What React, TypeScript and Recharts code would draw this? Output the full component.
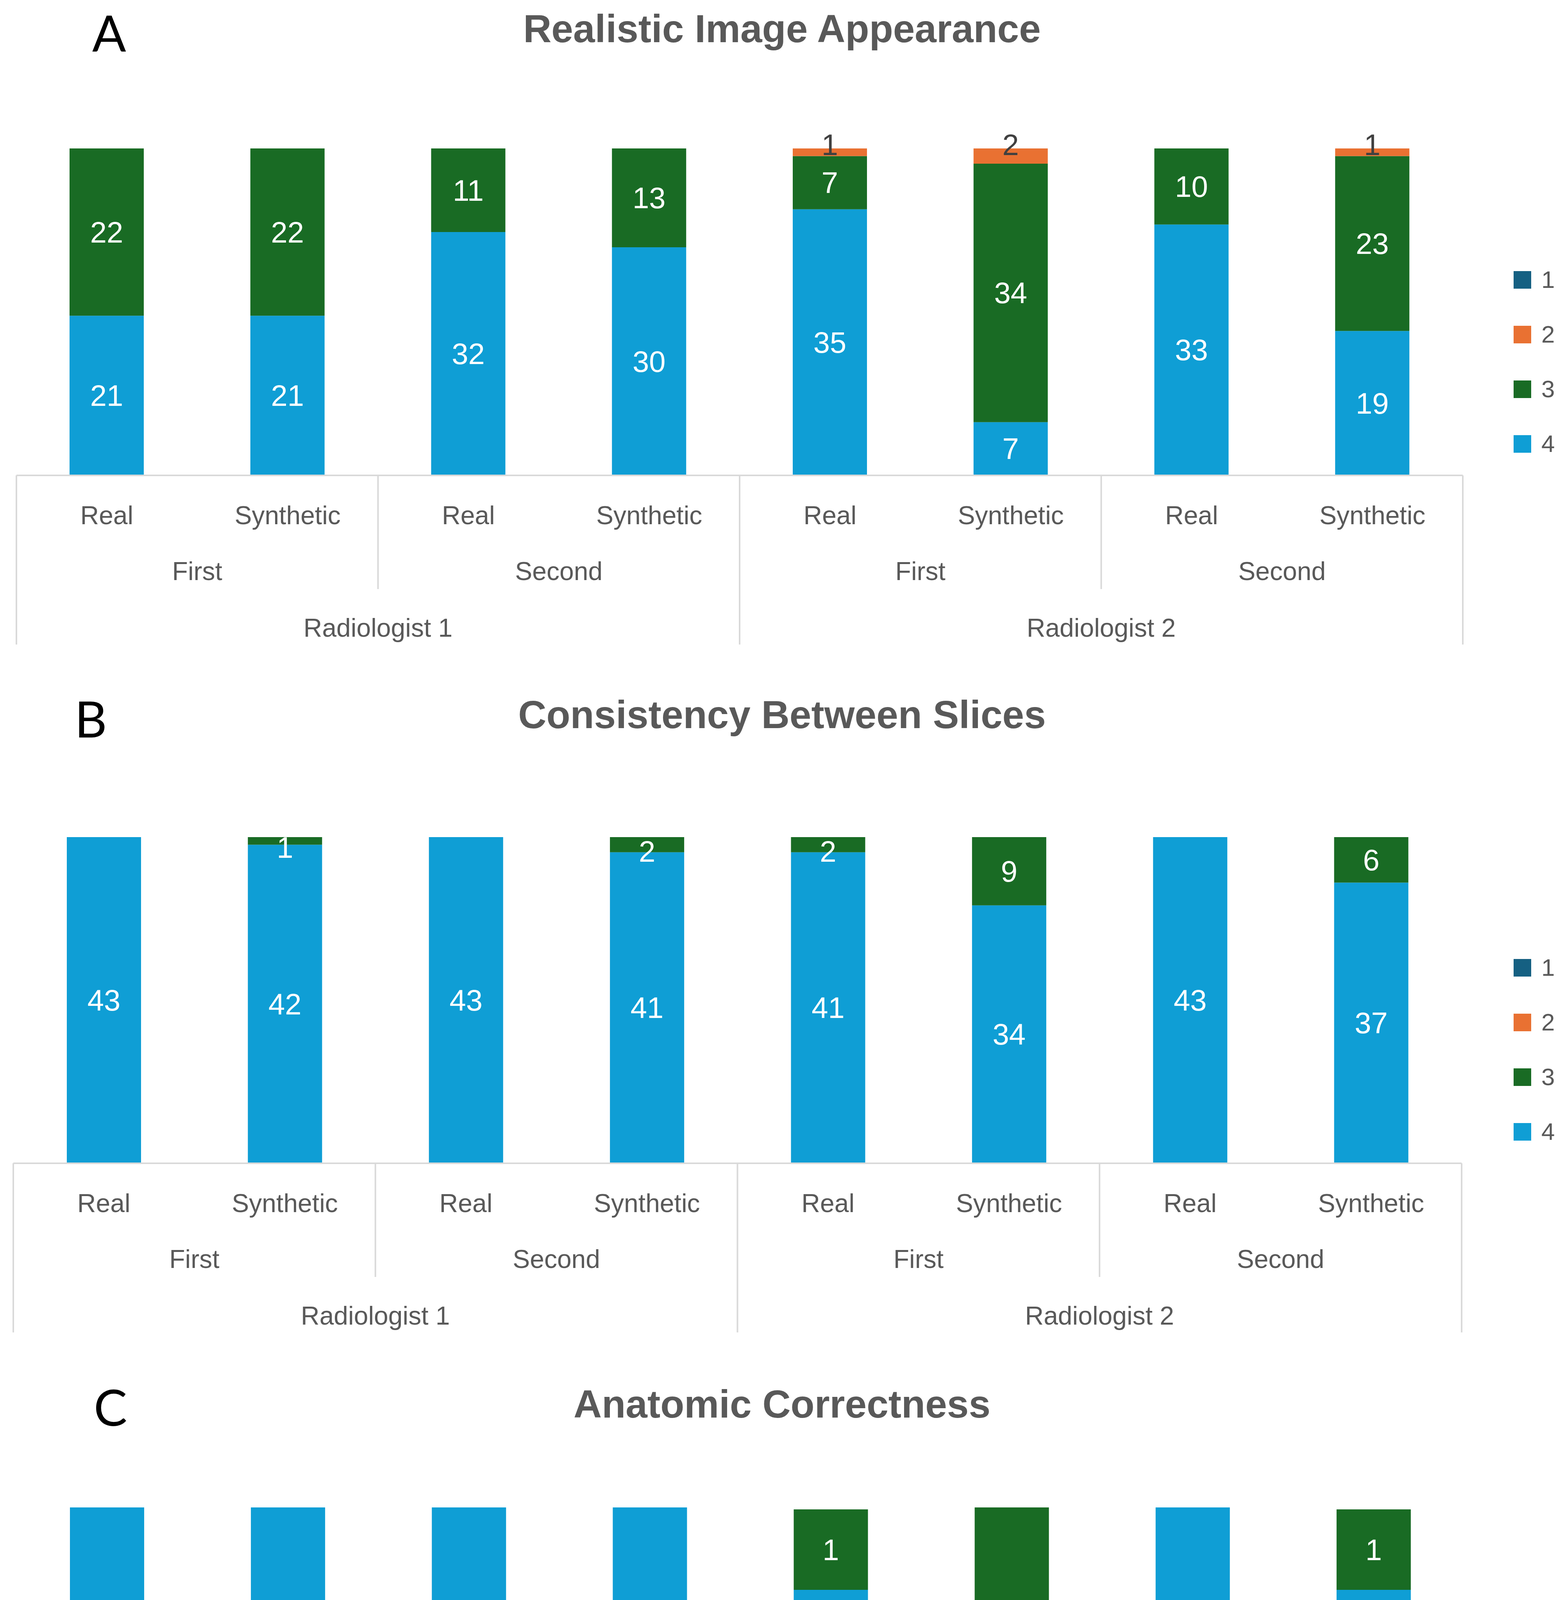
import { BarChart, Bar, XAxis, YAxis, Legend, LabelList } from 'recharts';

// Page size of the reference figure
const PAGE_W = 4003;
const PAGE_H = 5260;

const FONT = "'Liberation Sans', Arial, sans-serif";
const TEXT_GREY = '#595959';
const GRID_GREY = '#D9D9D9';

// Category hierarchy (bottom axis)
const imageTypes = ['Real', 'Synthetic', 'Real', 'Synthetic', 'Real', 'Synthetic', 'Real', 'Synthetic'];
const sessions = ['First', 'Second', 'First', 'Second'];
const readers = ['Radiologist 1', 'Radiologist 2'];

// Likert scores (legend)
const scoreNames = ['1', '2', '3', '4'];
const scoreColors: Record<string, string> = {
  '1': '#156082',
  '2': '#E97132',
  '3': '#196B24',
  '4': '#0F9ED5',
};

// A - Realistic Image Appearance
const realismScore4 = [21, 21, 32, 30, 35, 7, 33, 19];
const realismScore3 = [22, 22, 11, 13, 7, 34, 10, 23];
const realismScore2 = [0, 0, 0, 0, 1, 2, 0, 1];
const realismScore1 = [0, 0, 0, 0, 0, 0, 0, 0];

// B - Consistency Between Slices
const consistencyScore4 = [43, 42, 43, 41, 41, 34, 43, 37];
const consistencyScore3 = [0, 1, 0, 2, 2, 9, 0, 6];
const consistencyScore2 = [0, 0, 0, 0, 0, 0, 0, 0];
const consistencyScore1 = [0, 0, 0, 0, 0, 0, 0, 0];

// C - Anatomic Correctness (segment heights as drawn; printed labels kept separately)
const anatomyScore4 = [43, 43, 43, 43, 33.1, 14, 43, 33.1];
const anatomyScore3 = [0, 0, 0, 0, 9.66, 29, 0, 9.66];
const anatomyScore2 = [0, 0, 0, 0, 0, 0, 0, 0];
const anatomyScore1 = [0, 0, 0, 0, 0, 0, 0, 0];
const anatomyLabel4 = ['43', '43', '43', '43', '42', '40', '43', '42'];
const anatomyLabel3 = ['', '', '', '', '1', '3', '', '1'];

const asLabels = (vals: number[]) => vals.map((v) => (v > 0 ? String(v) : ''));

type PanelSpec = {
  key: string;
  letter: string;
  title: string;
  s4: number[];
  s3: number[];
  s2: number[];
  s1: number[];
  l4: string[];
  l3: string[];
  l2: string[];
  l1: string[];
  // layout (chart-relative pixels)
  top: number;
  plotTop: number;
  axisY: number;
  plotLeft: number;
  plotRight: number;
  legendTop: number;
  letterX: number;
  letterY: number;
  titleY: number;
};

const panels: PanelSpec[] = [
  {
    key: 'A', letter: 'A', title: 'Realistic Image Appearance',
    s4: realismScore4, s3: realismScore3, s2: realismScore2, s1: realismScore1,
    l4: asLabels(realismScore4), l3: asLabels(realismScore3), l2: asLabels(realismScore2), l1: asLabels(realismScore1),
    top: 0, plotTop: 380, axisY: 1217, plotLeft: 42, plotRight: 3744, legendTop: 646,
    letterX: 236, letterY: 132, titleY: 108,
  },
  {
    key: 'B', letter: 'B', title: 'Consistency Between Slices',
    s4: consistencyScore4, s3: consistencyScore3, s2: consistencyScore2, s1: consistencyScore1,
    l4: asLabels(consistencyScore4), l3: asLabels(consistencyScore3), l2: asLabels(consistencyScore2), l1: asLabels(consistencyScore1),
    top: 1720, plotTop: 423, axisY: 1258, plotLeft: 34, plotRight: 3741, legendTop: 687,
    letterX: 191, letterY: 168, titleY: 144,
  },
  {
    key: 'C', letter: 'C', title: 'Anatomic Correctness',
    s4: anatomyScore4, s3: anatomyScore3, s2: anatomyScore2, s1: anatomyScore1,
    l4: anatomyLabel4, l3: anatomyLabel3, l2: asLabels(anatomyScore2), l1: asLabels(anatomyScore1),
    top: 3500, plotTop: 359, axisY: 1276, plotLeft: 42, plotRight: 3747, legendTop: 688,
    letterX: 240, letterY: 150, titleY: 129,
  },
];

const X_AXIS_H = 440;
const BAR_SIZE = 190;

const makeTick = (p: PanelSpec) => (props: any) => {
  const { x, payload } = props;
  const i: number = props.index ?? payload.index ?? 0;
  const step = (p.plotRight - p.plotLeft) / imageTypes.length;
  const y0 = p.axisY;
  const txt = { fill: TEXT_GREY, fontSize: 66, fontFamily: FONT, textAnchor: 'middle' as const };
  return (
    <g>
      <text x={x} y={y0 + 125} {...txt}>{payload.value}</text>
      {i % 2 === 0 && (
        <text x={x + step / 2} y={y0 + 268} {...txt}>{sessions[i / 2]}</text>
      )}
      {i % 4 === 0 && (
        <text x={x + step * 1.5} y={y0 + 413} {...txt}>{readers[i / 4]}</text>
      )}
      {i % 2 === 0 && (
        <line x1={x - step / 2} x2={x - step / 2} y1={y0} y2={y0 + (i % 4 === 0 ? 433 : 291)} stroke={GRID_GREY} strokeWidth={4} />
      )}
      {i === imageTypes.length - 1 && (
        <line x1={x + step / 2} x2={x + step / 2} y1={y0} y2={y0 + 433} stroke={GRID_GREY} strokeWidth={4} />
      )}
    </g>
  );
};

const makeLabel = (score: string) => (props: any) => {
  const vb = props.viewBox ?? props;
  const x = Number(vb.x ?? props.x);
  const y = Number(vb.y ?? props.y);
  const width = Number(vb.width ?? props.width);
  const height = Number(vb.height ?? props.height);
  const value = props.value;
  if (value === undefined || value === null || value === '') return null;
  let cy = y + height / 2;
  let fill = '#FFFFFF';
  if (score === '2') {
    cy = y - 10;
    fill = '#404040';
  } else if (height < 60) {
    cy = y + height / 2 + 17;
  }
  return (
    <text
      x={x + width / 2}
      y={cy}
      fill={fill}
      fontSize={76}
      fontFamily={FONT}
      textAnchor="middle"
      dominantBaseline="central"
    >
      {value}
    </text>
  );
};

const renderLegend = () => (
  <div style={{ display: 'flex', flexDirection: 'column' }}>
    {scoreNames.map((s) => (
      <div key={s} style={{ height: 140, display: 'flex', alignItems: 'center' }}>
        <span style={{ width: 45, height: 45, background: scoreColors[s], marginRight: 26, display: 'inline-block' }} />
        <span style={{ fontSize: 62, color: TEXT_GREY, fontFamily: FONT, lineHeight: 1 }}>{s}</span>
      </div>
    ))}
  </div>
);

function Panel({ p }: { p: PanelSpec }) {
  const rows = imageTypes.map((name, i) => ({
    name,
    v4: p.s4[i], v3: p.s3[i], v2: p.s2[i], v1: p.s1[i],
    l4: p.l4[i], l3: p.l3[i], l2: p.l2[i], l1: p.l1[i],
  }));
  const height = p.axisY + X_AXIS_H;
  const stackOrder = ['4', '3', '2', '1'];
  return (
    <div style={{ position: 'absolute', left: 0, top: p.top }}>
      <BarChart
        width={PAGE_W}
        height={height}
        data={rows}
        margin={{ top: p.plotTop, right: PAGE_W - p.plotRight, bottom: 0, left: p.plotLeft }}
      >
        <XAxis
          dataKey="name"
          interval={0}
          height={X_AXIS_H}
          tickLine={false}
          axisLine={{ stroke: GRID_GREY, strokeWidth: 4 }}
          tick={makeTick(p)}
        />
        <YAxis hide domain={[0, 43]} />
        <Legend
          layout="vertical"
          align="center"
          verticalAlign="middle"
          wrapperStyle={{ left: 3874, top: p.legendTop, width: 120, height: 560 }}
          content={renderLegend}
        />
        {stackOrder.map((s) => (
          <Bar
            key={s}
            dataKey={`v${s}`}
            name={s}
            stackId="score"
            fill={scoreColors[s]}
            barSize={BAR_SIZE}
            isAnimationActive={false}
          >
            <LabelList dataKey={`l${s}`} content={makeLabel(s)} />
          </Bar>
        ))}
      </BarChart>
    </div>
  );
}

export default function App() {
  return (
    <div style={{ position: 'absolute', left: 0, top: 0, width: PAGE_W, height: PAGE_H, background: '#FFFFFF' }}>
      {panels.map((p) => (
        <Panel key={p.key} p={p} />
      ))}
      <svg
        width={PAGE_W}
        height={PAGE_H}
        style={{ position: 'absolute', left: 0, top: 0, pointerEvents: 'none' }}
      >
        {panels.map((p) => (
          <g key={p.key}>
            <text x={p.letterX} y={p.top + p.letterY} fontSize={128} fontFamily="Lato, 'Noto Sans', sans-serif" fill="#000000">
              {p.letter}
            </text>
            <text
              x={PAGE_W / 2}
              y={p.top + p.titleY}
              fontSize={100}
              fontWeight="bold"
              fontFamily={FONT}
              fill={TEXT_GREY}
              textAnchor="middle"
            >
              {p.title}
            </text>
          </g>
        ))}
      </svg>
    </div>
  );
}
